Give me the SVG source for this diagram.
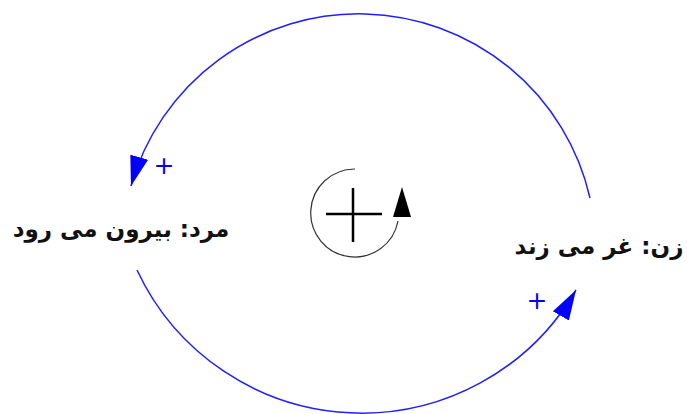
<svg xmlns="http://www.w3.org/2000/svg" width="687" height="414" viewBox="0 0 687 414">
<defs>
<style>
.link{fill:none;stroke:#2020ff;stroke-width:1.5}
.pol{font-family:"DejaVu Sans","Liberation Sans",sans-serif;font-size:25px;fill:#0000ff;text-anchor:middle}
.lbl{font-family:"DejaVu Sans","Noto Sans",sans-serif;font-size:23px;font-weight:bold;fill:#111;text-anchor:middle}
</style>
<marker id="ah" markerUnits="userSpaceOnUse" markerWidth="30" markerHeight="20" viewBox="0 0 26 16" refX="26" refY="8" orient="auto">
<path d="M0,0 L26,8 L0,16 Z" fill="#0000ff"/>
</marker>
</defs>
<g id="connectors">
<path class="link" d="M590,198 A237,237 0 0 0 131,186" marker-end="url(#ah)"/>
<path class="link" d="M137,270 A248,248 0 0 0 576,290" marker-end="url(#ah)"/>
<text class="pol" x="164" y="174">+</text>
<text class="pol" x="537" y="309">+</text>
</g>
<g id="node-man">
<text class="lbl" x="121" y="237" direction="rtl">مرد: بیرون می رود</text>
</g>
<g id="node-woman">
<text class="lbl" x="599" y="254" direction="rtl">زن: غر می زند</text>
</g>
<g id="loop">
<path d="M355,169 A44,44 0 1 0 398,221" fill="none" stroke="#333" stroke-width="1.2"/>
<path d="M402,187 L393,217 L411,217 Z" fill="#000"/>
<path d="M326,214 H382 M353,188 V242" stroke="#000" stroke-width="2.5" fill="none"/>
</g>
</svg>
